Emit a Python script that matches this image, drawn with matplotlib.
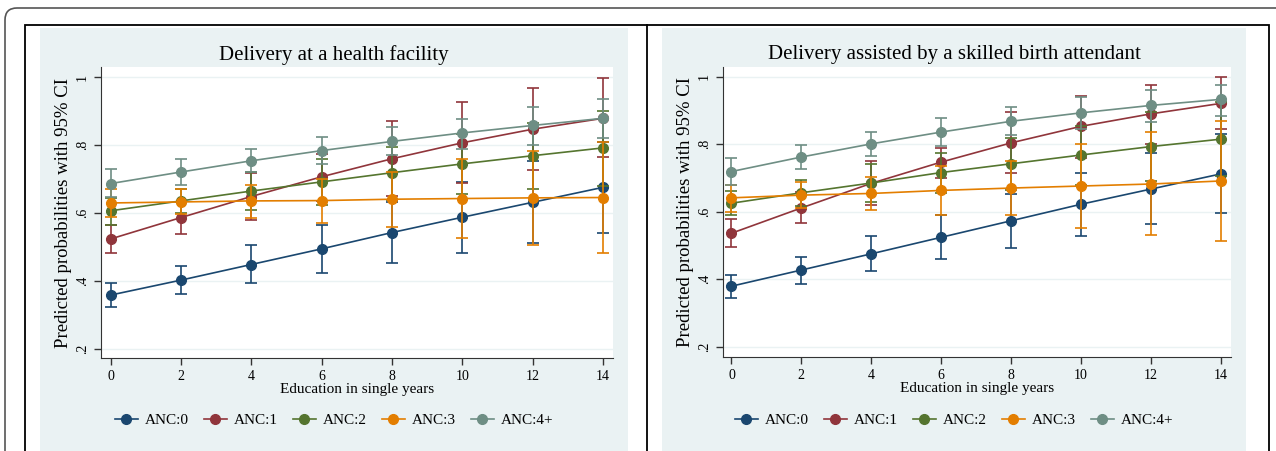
import matplotlib
matplotlib.use('Agg')
import matplotlib.pyplot as plt
from matplotlib.patches import Rectangle, FancyBboxPatch
from matplotlib.lines import Line2D

plt.rcParams['font.family'] = ['Liberation Serif', 'DejaVu Serif']

education = [0, 2, 4, 6, 8, 10, 12, 14]
groups = ['ANC:0', 'ANC:1', 'ANC:2', 'ANC:3', 'ANC:4+']
colors = ['#1a476f', '#90353b', '#55752f', '#e37e00', '#6e8e84']

# Delivery at a health facility
facility_prob = [
    [0.359, 0.403, 0.449, 0.495, 0.543, 0.588, 0.632, 0.676],
    [0.524, 0.587, 0.649, 0.707, 0.760, 0.807, 0.847, 0.879],
    [0.607, 0.636, 0.665, 0.692, 0.719, 0.745, 0.769, 0.792],
    [0.630, 0.633, 0.636, 0.637, 0.641, 0.643, 0.645, 0.646],
    [0.687, 0.721, 0.754, 0.784, 0.811, 0.836, 0.858, 0.879],
]
facility_lo = [
    [0.325, 0.363, 0.394, 0.424, 0.453, 0.482, 0.512, 0.543],
    [0.484, 0.538, 0.580, 0.637, 0.650, 0.690, 0.727, 0.765],
    [0.565, 0.600, 0.610, 0.625, 0.640, 0.655, 0.670, 0.680],
    [0.590, 0.597, 0.585, 0.570, 0.560, 0.528, 0.506, 0.482],
    [0.647, 0.682, 0.720, 0.745, 0.770, 0.790, 0.800, 0.820],
]
facility_hi = [
    [0.394, 0.444, 0.505, 0.566, 0.633, 0.693, 0.752, 0.810],
    [0.564, 0.634, 0.719, 0.774, 0.871, 0.926, 0.968, 0.997],
    [0.645, 0.672, 0.720, 0.758, 0.795, 0.832, 0.866, 0.900],
    [0.672, 0.670, 0.682, 0.700, 0.722, 0.758, 0.784, 0.810],
    [0.729, 0.758, 0.790, 0.823, 0.852, 0.878, 0.912, 0.935],
]

# Delivery assisted by a skilled birth attendant
sba_prob = [
    [0.379, 0.427, 0.475, 0.524, 0.573, 0.622, 0.667, 0.712],
    [0.536, 0.611, 0.684, 0.747, 0.804, 0.853, 0.890, 0.921],
    [0.625, 0.656, 0.685, 0.716, 0.742, 0.768, 0.793, 0.815],
    [0.641, 0.649, 0.654, 0.663, 0.670, 0.676, 0.682, 0.691],
    [0.719, 0.762, 0.801, 0.836, 0.868, 0.893, 0.915, 0.933],
]
sba_lo = [
    [0.345, 0.387, 0.423, 0.459, 0.493, 0.529, 0.563, 0.597],
    [0.496, 0.565, 0.620, 0.700, 0.716, 0.760, 0.800, 0.844],
    [0.590, 0.618, 0.630, 0.655, 0.665, 0.680, 0.690, 0.705],
    [0.600, 0.610, 0.605, 0.590, 0.590, 0.551, 0.532, 0.512],
    [0.679, 0.727, 0.766, 0.795, 0.826, 0.845, 0.866, 0.885],
]
sba_hi = [
    [0.412, 0.467, 0.528, 0.590, 0.653, 0.716, 0.773, 0.830],
    [0.577, 0.658, 0.750, 0.790, 0.894, 0.944, 0.977, 0.999],
    [0.660, 0.693, 0.740, 0.775, 0.818, 0.855, 0.895, 0.925],
    [0.680, 0.688, 0.703, 0.735, 0.750, 0.800, 0.836, 0.869],
    [0.759, 0.797, 0.836, 0.877, 0.910, 0.940, 0.960, 0.975],
]

W, H = 1276, 451
fig = plt.figure(figsize=(W / 100, H / 100), dpi=100)
inch = fig.dpi_scale_trans

# frames (pixel positions converted to inches)
fig.patches.append(FancyBboxPatch((0.05, -0.5), 13.5, (H - 8) / 100 + 0.5,
                                  boxstyle='round,pad=0,rounding_size=0.12',
                                  transform=inch, fc='white', ec='#555555',
                                  lw=1.2, zorder=-20))
fig.patches.append(Rectangle((0.25, -0.5), 12.44, (H - 25) / 100 + 0.5,
                             transform=inch, fc='white', ec='black',
                             lw=1.3, zorder=-15))
fig.lines.append(Line2D([6.47, 6.47], [-0.1, (H - 25) / 100],
                        transform=inch, color='black', lw=1.3, zorder=-14))
bg = '#eaf2f3'
fig.patches.append(Rectangle((0.40, -0.1), 5.88, (H - 28) / 100 + 0.1,
                             transform=inch, fc=bg, ec='none', zorder=-10))
fig.patches.append(Rectangle((6.62, -0.1), 5.84, (H - 28) / 100 + 0.1,
                             transform=inch, fc=bg, ec='none', zorder=-10))


def panel(rect, title, title_x, xlim, ylim, prob, lo, hi):
    ax = fig.add_axes(rect)
    ax.set_facecolor('white')
    for i in range(5):
        err = [[p - l for p, l in zip(prob[i], lo[i])],
               [h - p for p, h in zip(prob[i], hi[i])]]
        ax.errorbar(education, prob[i], yerr=err, fmt='-o', color=colors[i],
                    ms=7, lw=1.2, elinewidth=1.2, capsize=4, capthick=1.2,
                    label=groups[i], zorder=3 + i)
    ax.set_xlim(xlim)
    ax.set_ylim(ylim)
    ax.set_xticks(education)
    ax.set_yticks([0.2, 0.4, 0.6, 0.8, 1.0])
    ax.set_yticklabels(['.2', '.4', '.6', '.8', '1'], rotation=90, va='center')
    ax.tick_params(labelsize=10, length=5, color='#333333', width=1)
    ax.grid(axis='y', color=bg, lw=1)
    ax.set_axisbelow(True)
    for s in ['top', 'right']:
        ax.spines[s].set_visible(False)
    for s in ['left', 'bottom']:
        ax.spines[s].set_color('#333333')
    ax.set_xlabel('Education in single years', fontsize=11, labelpad=0)
    ax.set_ylabel('Predicted probabilities with 95% CI', fontsize=13.5, labelpad=3)
    fig.text(title_x / W, 1 - 55 / H, title, ha='center', va='center', fontsize=15)
    handles = [Line2D([], [], color=c, marker='o', ms=7, lw=1.2) for c in colors]
    fig.legend(handles, groups, loc='center', ncol=5, frameon=False,
               bbox_to_anchor=(title_x / W, 1 - 420 / H), fontsize=11,
               handlelength=1.5, columnspacing=1.0, handletextpad=0.45)
    return ax


panel([101 / W, 1 - 358 / H, 512 / W, 290.7 / H], 'Delivery at a health facility',
      334, (-0.27, 14.28), (0.174, 1.029), facility_prob, facility_lo, facility_hi)
panel([722.7 / W, 1 - 356.7 / H, 508 / W, 289.4 / H],
      'Delivery assisted by a skilled birth attendant',
      954, (-0.25, 14.28), (0.170, 1.028), sba_prob, sba_lo, sba_hi)

fig.savefig('out.png', dpi=100)
